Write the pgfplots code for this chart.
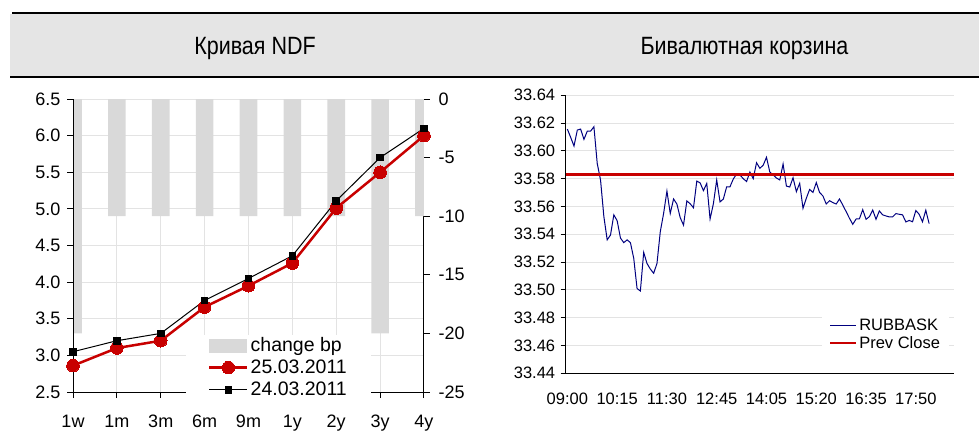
\documentclass[border=0pt]{standalone}
\usepackage{fontspec}
\setmainfont{Liberation Sans}
\newfontfamily\titlefont[FakeStretch=0.86]{Liberation Sans}
\usepackage{pgfplots}
\pgfplotsset{compat=1.18}
\definecolor{hdr}{HTML}{E5E5E5}
\definecolor{gridc}{HTML}{E3E3E3}
\definecolor{barc}{HTML}{D9D9D9}
\definecolor{redc}{HTML}{C80000}
\definecolor{navyc}{HTML}{00007F}
\pgfplotsset{
  mylegline/.style={legend image code/.code={\draw[mark repeat=2,mark phase=2,##1] plot coordinates {(0pt,0pt) (19pt,0pt) (38pt,0pt)};}},
  mylegline2/.style={legend image code/.code={\draw[##1] (0pt,0pt) -- (26pt,0pt);}},
}
\pgfplotstableread{
x y
0 33.6157
1 33.6097
2 33.6035
3 33.6150
4 33.6157
5 33.6083
6 33.6142
7 33.6142
8 33.6174
9 33.5910
10 33.5790
11 33.5527
12 33.5360
13 33.5395
14 33.5540
15 33.5498
16 33.5373
17 33.5340
18 33.5360
19 33.5340
20 33.5227
21 33.5010
22 33.4992
23 33.5270
24 33.5190
25 33.5150
26 33.5120
27 33.5190
28 33.5419
29 33.5550
30 33.5711
31 33.5550
32 33.5654
33 33.5618
34 33.5520
35 33.5466
36 33.5640
37 33.5620
38 33.5591
39 33.5783
40 33.5770
41 33.5714
42 33.5766
43 33.5510
44 33.5620
45 33.5791
46 33.5633
47 33.5654
48 33.5742
49 33.5742
50 33.5798
51 33.5834
52 33.5827
53 33.5800
54 33.5780
55 33.5848
56 33.5800
57 33.5915
58 33.5875
59 33.5897
60 33.5954
61 33.5848
62 33.5827
63 33.5805
64 33.5791
65 33.5906
66 33.5747
67 33.5740
68 33.5807
69 33.5707
70 33.5767
71 33.5587
72 33.5659
73 33.5723
74 33.5701
75 33.5772
76 33.5701
77 33.5676
78 33.5618
79 33.5642
80 33.5628
81 33.5618
82 33.5654
83 33.5610
84 33.5563
85 33.5515
86 33.5472
87 33.5510
88 33.5512
89 33.5577
90 33.5508
91 33.5527
92 33.5575
93 33.5508
94 33.5568
95 33.5540
96 33.5532
97 33.5525
98 33.5525
99 33.5549
100 33.5544
101 33.5540
102 33.5489
103 33.5500
104 33.5490
105 33.5571
106 33.5544
107 33.5490
108 33.5573
109 33.5477
}\basket
\begin{document}
\begin{tikzpicture}
\path[use as bounding box] (0pt,0pt) rectangle (979pt,432pt);
% header
\fill[hdr] (10pt,356pt) rectangle (979pt,418pt);
\fill[black] (12pt,418pt) rectangle (979pt,420pt);
\fill[black] (10pt,354pt) rectangle (979pt,356pt);
\node[anchor=base,inner sep=0pt,font=\titlefont\fontsize{25}{25}\selectfont] at (255pt,377.7pt) {Кривая NDF};
\node[anchor=base,inner sep=0pt,font=\titlefont\fontsize{25}{25}\selectfont] at (744.5pt,377.7pt) {Бивалютная корзина};

% ---- left chart: grid ----
\begin{axis}[
  at={(73pt,40pt)}, anchor=south west,
  width=351pt, height=293pt, scale only axis,
  xmin=0, xmax=8, ymin=2.5, ymax=6.5,
  xtick={0,1,2,3,4,5,6,7,8}, ytick={2.5,3,3.5,4,4.5,5,5.5,6,6.5},
  xticklabels={}, yticklabels={},
  major tick length=0pt,
  axis line style={draw=none},
  grid=major, major grid style={draw=gridc, line width=1pt},
]
\addplot[draw=none] coordinates {(0,3)};
\end{axis}

% ---- left chart: bars on right axis ----
\begin{axis}[
  at={(73pt,40pt)}, anchor=south west,
  width=351pt, height=293pt, scale only axis,
  xmin=0, xmax=8, ymin=-25, ymax=0,
  axis y line*=right, axis x line=none,
  axis line style={-, black, line width=1pt},
  ytick={0,-5,-10,-15,-20,-25}, yticklabels={0,-5,-10,-15,-20,-25},
  tick align=outside, major tick length=6pt,
  tick style={black, line width=1pt},
  yticklabel style={font=\fontsize{18}{18}\selectfont, xshift=5pt},
  ybar, bar width=17.7pt,
]
\addplot[fill=barc, draw=none] coordinates {(0,-20) (1,-10) (2,-10) (3,-10) (4,-10) (5,-10) (6,-10) (7,-20) (8,-10)};
\end{axis}

% ---- left chart: lines ----
\begin{axis}[
  at={(73pt,40pt)}, anchor=south west,
  width=351pt, height=293pt, scale only axis,
  xmin=0, xmax=8, ymin=2.5, ymax=6.5,
  axis y line*=left, axis x line*=bottom,
  axis line style={-, black, line width=1pt},
  xtick={0,1,2,3,4,5,6,7,8}, xticklabels={1w,1m,3m,6m,9m,1y,2y,3y,4y},
  ytick={2.5,3,3.5,4,4.5,5,5.5,6,6.5},
  yticklabels={2.5,3.0,3.5,4.0,4.5,5.0,5.5,6.0,6.5},
  tick align=outside, major tick length=6pt,
  tick style={black, line width=1pt},
  ticklabel style={font=\fontsize{18}{18}\selectfont},
  yticklabel style={xshift=-3pt},
  xticklabel style={anchor=north, text height=13pt, text depth=4pt, yshift=-13pt},
  clip=false,
  legend style={at={(0.3219,-0.0256)}, anchor=south west, draw=none, fill=white,
    font=\fontsize{19.5}{19.5}\selectfont, inner xsep=22pt, inner ysep=0pt,
    row sep=3pt, legend cell align=left},
]
\addlegendimage{legend image code/.code={\fill[barc] (0pt,-6.5pt) rectangle (37pt,6.5pt);}}
\addplot[redc, line width=2.5pt, mark=*, mark size=6.3pt, mark options={fill=redc, draw=redc, line width=0pt}, mylegline]
  coordinates {(0,2.86) (1,3.10) (2,3.20) (3,3.66) (4,3.95) (5,4.26) (6,5.01) (7,5.50) (8,6.00)};
\addplot[black, line width=1pt, mark=square*, mark size=3.3pt, mark options={fill=black, line width=0pt}, mylegline]
  coordinates {(0,3.05) (1,3.20) (2,3.30) (3,3.75) (4,4.05) (5,4.36) (6,5.11) (7,5.70) (8,6.10)};
\legend{change bp, 25.03.2011, 24.03.2011}
\end{axis}

% ---- right chart ----
\begin{axis}[
  at={(565.7pt,58.7pt)}, anchor=south west,
  width=388.3pt, height=278pt, scale only axis,
  xmin=-0.5, xmax=116.5, ymin=33.44, ymax=33.64,
  axis x line*=bottom, axis y line*=left,
  axis line style={-, black, line width=1pt},
  xtick={0,15,30,45,60,75,90,105},
  xticklabels={09:00,10:15,11:30,12:45,14:05,15:20,16:35,17:50},
  ytick={33.44,33.46,33.48,33.50,33.52,33.54,33.56,33.58,33.60,33.62,33.64},
  yticklabels={33.44,33.46,33.48,33.50,33.52,33.54,33.56,33.58,33.60,33.62,33.64},
  ymajorgrids, major grid style={draw=gridc, line width=1pt},
  tick align=outside, major tick length=5pt,
  x tick style={draw=none}, y tick style={black, line width=1pt},
  ticklabel style={font=\fontsize{16.5}{16.5}\selectfont},
  yticklabel style={xshift=-2pt},
  xticklabel style={anchor=north, text height=12pt, text depth=0pt, yshift=-11pt},
  legend style={at={(0.659,0.206)}, anchor=north west, draw=none, fill=white,
    font=\fontsize{16.5}{16.5}\selectfont, inner xsep=7pt, inner ysep=1pt,
    row sep=0pt, legend cell align=left},
]
\addplot[navyc, line width=1pt, mylegline2] table[x=x, y=y] {\basket};
\addplot[redc, line width=2.5pt, mylegline2] coordinates {(-0.5,33.583) (116.5,33.583)};
\legend{RUBBASK, Prev Close}
\end{axis}
\end{tikzpicture}
\end{document}
